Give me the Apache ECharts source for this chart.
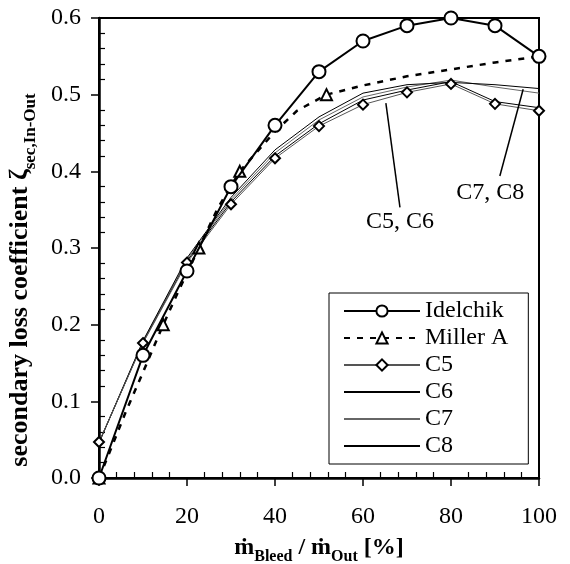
<!DOCTYPE html>
<html>
<head>
<meta charset="utf-8">
<script src="https://cdn.jsdelivr.net/npm/echarts@6/dist/echarts.min.js"></script>
<style>
  html, body { margin: 0; padding: 0; background: #fff; }
  #chart { width: 570px; height: 564px; }
</style>
</head>
<body>
<div id="chart"></div>
<script>
// 数据
var xPct = [0, 10, 20, 30, 40, 50, 60, 70, 80, 90, 100];
var idelchik = [0, 0.16, 0.27, 0.38, 0.46, 0.53, 0.57, 0.59, 0.60, 0.59, 0.55];
var c5 = [0.047, 0.176, 0.281, 0.357, 0.417, 0.459, 0.487, 0.503, 0.514, 0.488, 0.479];
var c6 = [0.046, 0.177, 0.283, 0.360, 0.420, 0.462, 0.493, 0.506, 0.517, 0.491, 0.483];
var c7 = [0.046, 0.178, 0.285, 0.363, 0.424, 0.467, 0.497, 0.510, 0.519, 0.510, 0.502];
var c8 = [0.046, 0.179, 0.287, 0.366, 0.428, 0.471, 0.502, 0.513, 0.516, 0.513, 0.508];

var millerX = [0, 3, 6, 10, 14.6, 18, 22.7, 27, 32, 36, 40, 45, 51.7, 60, 70, 80, 90, 100];
var millerY = [0, 0.042, 0.085, 0.138, 0.2, 0.243, 0.3, 0.352, 0.4, 0.426, 0.452, 0.479, 0.5, 0.512, 0.524, 0.533, 0.542, 0.55];
var millerMarks = [0, 14.6, 22.7, 32, 51.7];   // points with a triangle

// callouts: [label, text pos, line start, line end]
var callouts = [
    ['C5, C6', [68.4, 0.334], [68.4, 0.353], [65.2, 0.489]],
    ['C7, C8', [88.9, 0.372], [91.1, 0.394], [96.4, 0.507]]
];

var FONT = "'Liberation Serif', 'Times New Roman', 'DejaVu Serif', serif";

function pairs(xs, ys) {
    return xs.map(function (x, i) { return [x, ys[i]]; });
}

var millerData = millerX.map(function (x, i) {
    var item = { value: [x, millerY[i]] };
    if (millerMarks.indexOf(x) < 0) item.symbol = 'none';
    return item;
});

function thin(name, ys, color) {
    return {
        name: name, type: 'line', data: pairs(xPct, ys),
        symbol: 'none', z: 2,
        lineStyle: { color: color, width: 1 },
        itemStyle: { color: color }
    };
}

// legend entries without a marker
function plainItem(name) {
    return { name: name, itemStyle: { color: 'transparent', borderColor: 'transparent', borderWidth: 0 } };
}

var chart = echarts.init(document.getElementById('chart'));

var c5series = {
    name: 'C5', type: 'line', data: pairs(xPct, c5),
    symbol: 'diamond', symbolSize: 10, z: 3,
    lineStyle: { color: '#555', width: 1 },
    itemStyle: { color: '#fff', borderColor: '#000', borderWidth: 2 }
};

var c6series = thin('C6', c6, '#000');
c6series.markLine = {
    silent: true, symbol: 'none', animation: false,
    lineStyle: { color: '#000', width: 1.5, type: 'solid' },
    label: { show: false },
    data: callouts.map(function (c) { return [{ coord: c[2] }, { coord: c[3] }]; })
};
c6series.markPoint = {
    silent: true, symbol: 'circle', symbolSize: 0, animation: false,
    label: { show: true, position: 'inside', color: '#000', fontFamily: FONT, fontSize: 24,
        formatter: function (p) { return p.name; } },
    data: callouts.map(function (c) { return { name: c[0], coord: c[1] }; })
};

chart.setOption({
    animation: false,
    backgroundColor: '#fff',
    grid: {
        left: 99, right: 31, top: 18, bottom: 86,
        containLabel: false, outerBoundsMode: 'none',
        show: true, borderColor: '#000', borderWidth: 2
    },
    legend: {
        orient: 'vertical', left: 329, top: 293,
        padding: [6, 20, 6, 14],
        itemWidth: 76, itemHeight: 14, itemGap: 3, itemTextGap: 8,
        backgroundColor: '#fff', borderColor: '#000', borderWidth: 1,
        textStyle: { fontFamily: FONT, fontSize: 24, lineHeight: 24, color: '#000' },
        data: ['Idelchik', 'Miller A', 'C5', plainItem('C6'), plainItem('C7'), plainItem('C8')]
    },
    xAxis: [{
        type: 'value', min: 0, max: 100, interval: 20, position: 'bottom',
        name: '{b|ṁ}{s|Bleed}{b| / ṁ}{s|Out}{b| [%]}',
        nameLocation: 'middle', nameGap: 58,
        nameTextStyle: {
            rich: {
                b: { fontFamily: FONT, fontSize: 24, fontWeight: 'bold', color: '#000', verticalAlign: 'bottom' },
                s: { fontFamily: FONT, fontSize: 16, fontWeight: 'bold', color: '#000', verticalAlign: 'bottom', padding: [0, 0, -5, 0] }
            }
        },
        axisLine: { lineStyle: { color: '#000', width: 2.5 } },
        axisTick: { show: true, length: 8, inside: false, lineStyle: { color: '#000', width: 1.5 } },
        axisLabel: { margin: 27, fontFamily: FONT, fontSize: 24, color: '#000' },
        splitLine: { show: false }
    }, {
        type: 'value', min: 0, max: 100, interval: 20, position: 'bottom',
        axisLine: { show: false },
        axisTick: { show: false, inside: true },
        minorTick: { show: true, splitNumber: 5, length: 6, lineStyle: { color: '#000', width: 1.2 } },
        axisLabel: { show: false },
        splitLine: { show: false }
    }],
    yAxis: [{
        type: 'value', min: 0, max: 0.6, interval: 0.1, position: 'left',
        name: '{b|secondary loss coefficient ζ}{s|sec,In-Out}',
        nameLocation: 'middle', nameGap: 66, nameRotate: 90,
        nameTextStyle: {
            padding: [0, 64, 0, 0],
            rich: {
                b: { fontFamily: FONT, fontSize: 26, fontWeight: 'bold', color: '#000', verticalAlign: 'bottom' },
                s: { fontFamily: FONT, fontSize: 17, fontWeight: 'bold', color: '#000', verticalAlign: 'bottom', padding: [0, 0, -6, 0] }
            }
        },
        axisLine: { lineStyle: { color: '#000', width: 2.5 } },
        axisTick: { show: true, length: 8, inside: false, lineStyle: { color: '#000', width: 1.5 } },
        axisLabel: { margin: 18, fontFamily: FONT, fontSize: 24, color: '#000',
            formatter: function (v) { return v.toFixed(1); } },
        splitLine: { show: false }
    }, {
        type: 'value', min: 0, max: 0.6, interval: 0.1, position: 'left',
        axisLine: { show: false },
        axisTick: { show: false, inside: true },
        minorTick: { show: true, splitNumber: 5, length: 6, lineStyle: { color: '#000', width: 1.2 } },
        axisLabel: { show: false },
        splitLine: { show: false }
    }],
    series: [
        {
            name: 'Idelchik', type: 'line', data: pairs(xPct, idelchik),
            symbol: 'circle', symbolSize: 13, z: 5,
            lineStyle: { color: '#000', width: 2 },
            itemStyle: { color: '#fff', borderColor: '#000', borderWidth: 2 }
        },
        {
            name: 'Miller A', type: 'line', data: millerData,
            symbol: 'triangle', symbolSize: 11, z: 4,
            lineStyle: { color: '#000', width: 2.5, type: [6, 7] },
            itemStyle: { color: '#fff', borderColor: '#000', borderWidth: 2 }
        },
        c5series,
        c6series,
        thin('C7', c7, '#666'),
        thin('C8', c8, '#000')
    ]
});
</script>
</body>
</html>
